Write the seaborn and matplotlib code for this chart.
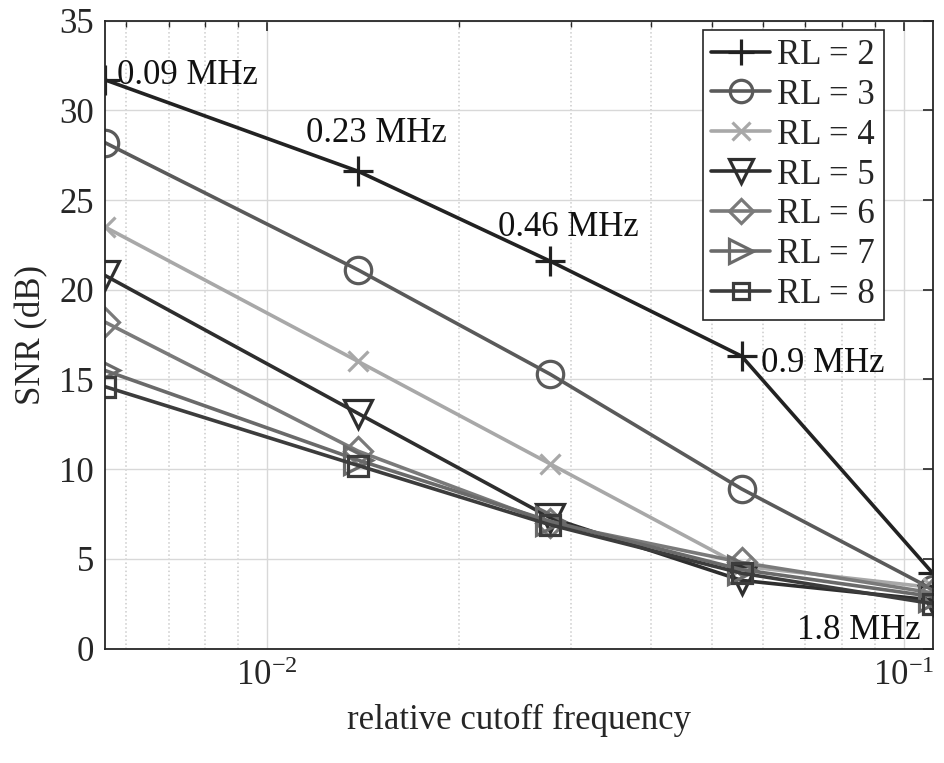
import numpy as np
import pandas as pd
import matplotlib
matplotlib.use('Agg')
import matplotlib.pyplot as plt
import seaborn as sns
from matplotlib.ticker import LogLocator, NullFormatter, MultipleLocator

# ── data ──────────────────────────────────────────────────────────────────────
rel_cutoff = [0.00556, 0.0139, 0.0278, 0.0556, 0.111]
cutoff_labels = ['0.09 MHz', '0.23 MHz', '0.46 MHz', '0.9 MHz', '1.8 MHz']
rl_levels = [2, 3, 4, 5, 6, 7, 8]

snr_rl2 = [31.7, 26.6, 21.6, 16.3, 4.2]
snr_rl3 = [28.2, 21.1, 15.3, 8.9, 3.3]
snr_rl4 = [23.5, 16.0, 10.3, 4.6, 3.4]
snr_rl5 = [20.8, 13.1, 7.3, 3.8, 2.7]
snr_rl6 = [18.2, 11.0, 7.0, 4.8, 3.1]
snr_rl7 = [15.5, 10.5, 7.1, 4.4, 2.9]
snr_rl8 = [14.6, 10.2, 6.9, 4.2, 2.5]

snr_by_rl = [snr_rl2, snr_rl3, snr_rl4, snr_rl5, snr_rl6, snr_rl7, snr_rl8]

df = pd.DataFrame({
    'rel': np.tile(rel_cutoff, len(rl_levels)),
    'snr': np.concatenate(snr_by_rl),
    'RL': np.repeat(rl_levels, len(rel_cutoff)),
})

# ── style ─────────────────────────────────────────────────────────────────────
sns.set_style('white')
plt.rcParams['font.family'] = ['Liberation Serif', 'DejaVu Serif']
plt.rcParams['mathtext.fontset'] = 'custom'
plt.rcParams['mathtext.rm'] = 'Liberation Serif'
plt.rcParams['mathtext.it'] = 'Liberation Serif:italic'

colors  = ['#222222', '#5a5a5a', '#a8a8a8', '#2e2e2e', '#7a7a7a', '#6a6a6a', '#3c3c3c']
markers = ['+', 'o', 'x', 'v', 'D', '>', 's']
msizes  = [22, 19, 15, 20, 14, 20, 14]
FS = 25

fig, ax = plt.subplots(figsize=(9.45, 7.63), dpi=100)
fig.subplots_adjust(left=0.111, right=0.987, bottom=0.150, top=0.973)

for rl, c, m, ms in zip(rl_levels, colors, markers, msizes):
    sub = df[df['RL'] == rl]
    sns.lineplot(data=sub, x='rel', y='snr', ax=ax, color=c, marker=m,
                 markersize=ms, markeredgecolor=c, markerfacecolor='none',
                 markeredgewidth=2.3, linewidth=2.6, label=f'RL = {rl}')

ax.set_xscale('log')
ax.set_xlim(rel_cutoff[0], rel_cutoff[-1])
ax.set_ylim(0, 35)
ax.yaxis.set_major_locator(MultipleLocator(5))
ax.xaxis.set_major_locator(LogLocator(base=10))
ax.xaxis.set_minor_locator(LogLocator(base=10, subs=np.arange(2, 10)))
ax.xaxis.set_minor_formatter(NullFormatter())

ax.grid(True, which='major', color='#d8d8d8', linewidth=1.0)
ax.grid(True, which='minor', axis='x', color='#cccccc', linestyle=':', linewidth=1.1)
ax.set_axisbelow(True)

for sp in ax.spines.values():
    sp.set_color('#262626')
    sp.set_linewidth(1.3)
ax.tick_params(which='both', direction='in', top=True, right=True,
               labelsize=FS, colors='#262626', pad=8)
ax.tick_params(which='major', length=7, width=1.2)
ax.tick_params(which='minor', length=4, width=1.0)

ax.set_xlabel('relative cutoff frequency', fontsize=FS, labelpad=8)
ax.set_ylabel('SNR (dB)', fontsize=FS, labelpad=8)

# frequency annotations along the RL = 2 curve
offsets = [(9, 3, 'left'), (13, 27, 'center'), (13, 24, 'center'),
           (14, -5, 'left'), (-9, -41, 'right')]
for xv, yv, txt, (dx, dy, ha) in zip(rel_cutoff, snr_rl2, cutoff_labels, offsets):
    ax.annotate(txt, xy=(xv, yv), xytext=(dx, dy), textcoords='offset points',
                ha=ha, va='center', fontsize=FS, color='#111111')

leg = ax.legend(loc='upper right', bbox_to_anchor=(0.941, 0.985), borderaxespad=0,
                fontsize=FS, frameon=True, fancybox=False, framealpha=1,
                edgecolor='#262626', handlelength=1.7, handletextpad=0.2,
                labelspacing=0.2, borderpad=0.25, markerscale=0.85)
leg.get_frame().set_linewidth(1.2)

fig.savefig('out.png', dpi=100)
